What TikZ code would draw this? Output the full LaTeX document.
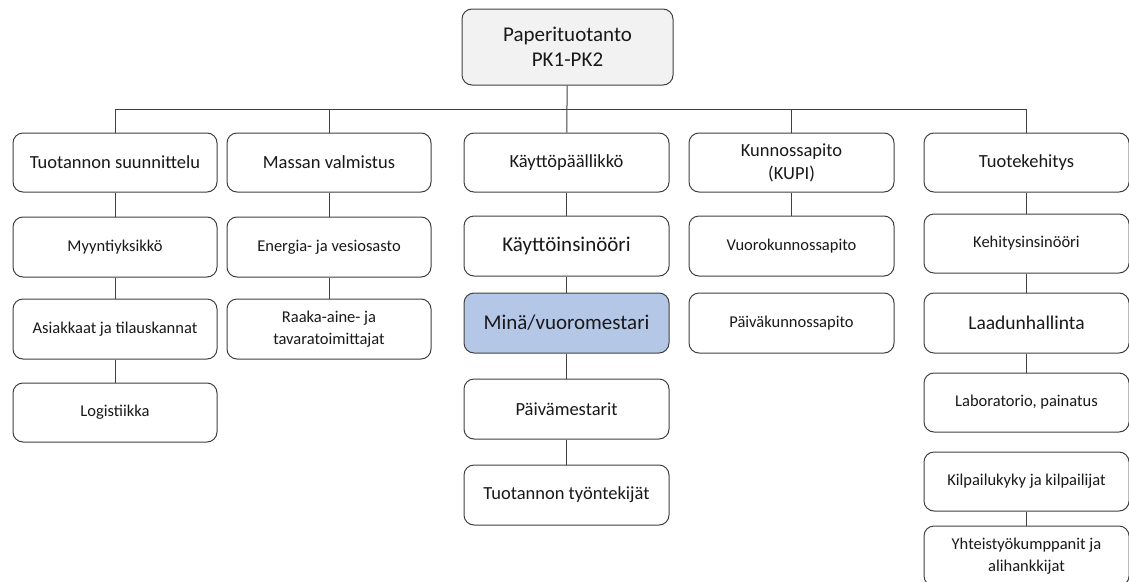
\documentclass[tikz,border=0pt]{standalone}
\usepackage{fontspec}
\setmainfont{Carlito}
\definecolor{edge}{HTML}{404040}
\definecolor{topfill}{HTML}{F2F2F2}
\definecolor{mefill}{HTML}{B4C7E7}
\newcommand{\fbig}{\fontsize{21}{25}\selectfont}
\newcommand{\flaa}{\fontsize{19.5}{24}\selectfont}
\newcommand{\fmid}{\fontsize{18.5}{23}\selectfont}
\newcommand{\fsml}{\fontsize{16.5}{22}\selectfont}
\tikzset{
  box/.style={draw=edge, line width=1pt, rounded corners=10pt, fill=white,
    align=center, inner sep=0pt, minimum width=205pt, minimum height=60pt, text=black!90},
  link/.style={draw=edge, line width=1pt},
}
\begin{document}
\begin{tikzpicture}[x=1pt,y=-1pt]
\useasboundingbox (0,0) rectangle (1129,581);
\clip (0,0) rectangle (1129,581);
% top
\node[box, fill=topfill, minimum width=211pt, minimum height=76pt, font=\fbig] (top) at (567.5,47) {Paperituotanto\\PK1-PK2};
% level 1
\node[box, minimum width=204pt, minimum height=59pt, font=\fmid] (a1) at (115,162.5) {Tuotannon suunnittelu};
\node[box, minimum width=204pt, minimum height=59pt, font=\fmid] (b1) at (329,162.5) {Massan valmistus};
\node[box, minimum height=59pt, font=\fmid] (c1) at (566.5,162.5) {Käyttöpäällikkö};
\node[box, minimum height=59pt, font=\fmid] (d1) at (791.5,162.5) {Kunnossapito\\(KUPI)};
\node[box, minimum height=59pt, font=\fmid] (e1) at (1026.5,162.5) {Tuotekehitys};
% level 2
\node[box, minimum width=204pt, font=\fsml] (a2) at (115,247) {Myyntiyksikkö};
\node[box, minimum width=204pt, font=\fsml] (b2) at (329,247) {Energia- ja vesiosasto};
\node[box, font=\fbig] (c2) at (566.5,246) {Käyttöinsinööri};
\node[box, font=\fsml] (d2) at (791.5,246) {Vuorokunnossapito};
\node[box, minimum height=59pt, font=\fsml] (e2) at (1026.5,243.5) {Kehitysinsinööri};
% level 3
\node[box, minimum width=204pt, font=\fsml] (a3) at (115,329) {Asiakkaat ja tilauskannat};
\node[box, minimum width=204pt, font=\fsml] (b3) at (329,329) {Raaka-aine- ja\\tavaratoimittajat};
\node[box, fill=mefill, font=\fbig] (c3) at (566.5,323) {Minä/vuoromestari};
\node[box, font=\fsml] (d3) at (791.5,323) {Päiväkunnossapito};
\node[box, font=\flaa] (e3) at (1026.5,323) {Laadunhallinta};
% level 4
\node[box, minimum width=204pt, minimum height=59pt, font=\fsml] (a4) at (115,412.5) {Logistiikka};
\node[box, font=\fmid] (c4) at (566.5,409) {Päivämestarit};
\node[box, minimum height=59pt, font=\fsml] (e4) at (1026.5,402.5) {Laboratorio, painatus};
% level 5
\node[box, font=\fmid] (c5) at (566.5,495) {Tuotannon työntekijät};
\node[box, minimum height=59pt, font=\fsml] (e5) at (1026.5,481.5) {Kilpailukyky ja kilpailijat};
\node[box, font=\fsml] (e6) at (1026.5,556) {Yhteistyökumppanit ja\\alihankkijat};
% connectors
\coordinate (barL) at (115,109);
\coordinate (barR) at (1026.5,109);
\draw[link] (top) -- (c1);
\draw[link] (a1.north) -- (barL) -- (barR) -- (e1.north);
\draw[link] (b1.north) -- (b1.north |- barL);
\draw[link] (d1.north) -- (d1.north |- barL);
\draw[link] (a1) -- (a2);
\draw[link] (a2) -- (a3);
\draw[link] (a3) -- (a4);
\draw[link] (b1) -- (b2);
\draw[link] (b2) -- (b3);
\draw[link] (c1) -- (c2);
\draw[link] (c2) -- (c3);
\draw[link] (c3) -- (c4);
\draw[link] (c4) -- (c5);
\draw[link] (d1) -- (d2);
\draw[link] (e1) -- (e2);
\draw[link] (e2) -- (e3);
\draw[link] (e3) -- (e4);
\draw[link] (e5) -- (e6);
\end{tikzpicture}
\end{document}
